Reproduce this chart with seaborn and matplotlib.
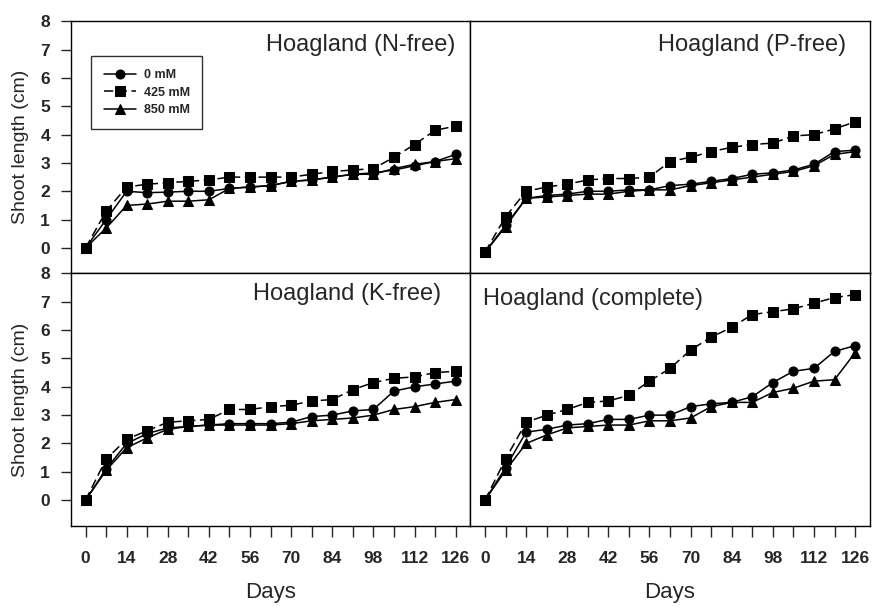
import numpy as np
import matplotlib
matplotlib.use("Agg")
import matplotlib.pyplot as plt
import seaborn as sns

days = [0, 7, 14, 21, 28, 35, 42, 49, 56, 63, 70, 77, 84, 91, 98, 105, 112, 119, 126]
labels = ["0 mM", "425 mM", "850 mM"]

# N-free
n_0 = [0, 1.0, 2.0, 1.95, 1.97, 2.0, 2.0, 2.1, 2.15, 2.2, 2.35, 2.4, 2.5, 2.6, 2.65, 2.75, 2.9, 3.05, 3.3]
n_425 = [0, 1.3, 2.15, 2.25, 2.3, 2.35, 2.4, 2.5, 2.5, 2.5, 2.5, 2.6, 2.7, 2.75, 2.8, 3.2, 3.65, 4.15, 4.3]
n_850 = [0, 0.7, 1.5, 1.55, 1.65, 1.65, 1.7, 2.1, 2.15, 2.2, 2.35, 2.4, 2.5, 2.6, 2.6, 2.8, 2.95, 3.05, 3.15]

# P-free
p_0 = [-0.15, 0.8, 1.75, 1.85, 1.9, 2.0, 2.0, 2.05, 2.05, 2.2, 2.25, 2.35, 2.45, 2.6, 2.65, 2.75, 2.95, 3.4, 3.45]
p_425 = [-0.15, 1.1, 2.0, 2.15, 2.25, 2.4, 2.45, 2.45, 2.5, 3.05, 3.2, 3.4, 3.55, 3.65, 3.7, 3.95, 4.0, 4.2, 4.45]
p_850 = [-0.15, 0.75, 1.75, 1.8, 1.85, 1.9, 1.9, 2.0, 2.05, 2.05, 2.2, 2.3, 2.4, 2.5, 2.6, 2.7, 2.9, 3.3, 3.4]

# K-free
k_0 = [0, 1.1, 2.0, 2.35, 2.55, 2.6, 2.65, 2.7, 2.7, 2.7, 2.75, 2.95, 3.0, 3.15, 3.2, 3.85, 4.0, 4.1, 4.2]
k_425 = [0, 1.45, 2.15, 2.45, 2.75, 2.8, 2.85, 3.2, 3.2, 3.3, 3.35, 3.5, 3.55, 3.9, 4.15, 4.3, 4.35, 4.5, 4.55]
k_850 = [0, 1.05, 1.85, 2.2, 2.5, 2.6, 2.65, 2.65, 2.65, 2.65, 2.7, 2.8, 2.85, 2.9, 3.0, 3.2, 3.3, 3.45, 3.55]

# complete
c_0 = [0, 1.15, 2.4, 2.5, 2.65, 2.7, 2.85, 2.85, 3.0, 3.0, 3.3, 3.4, 3.45, 3.65, 4.15, 4.55, 4.65, 5.25, 5.45]
c_425 = [0, 1.45, 2.75, 3.0, 3.2, 3.45, 3.5, 3.7, 4.2, 4.65, 5.3, 5.75, 6.1, 6.55, 6.65, 6.75, 6.95, 7.15, 7.25]
c_850 = [0, 1.05, 2.0, 2.3, 2.55, 2.6, 2.65, 2.65, 2.8, 2.8, 2.9, 3.3, 3.45, 3.45, 3.8, 3.95, 4.2, 4.25, 5.2]

panels = [
    ("Hoagland (N-free)", [n_0, n_425, n_850]),
    ("Hoagland (P-free)", [p_0, p_425, p_850]),
    ("Hoagland (K-free)", [k_0, k_425, k_850]),
    ("Hoagland (complete)", [c_0, c_425, c_850]),
]
title_pos = [(0.963, 0.905, "right"), (0.942, 0.905, "right"), (0.928, 0.92, "right"), (0.033, 0.90, "left")]

markers = ["o", "s", "^"]
styles = ["-", (0, (6, 3)), "-"]

sns.set_style("white")
plt.rcParams["font.family"] = ["Liberation Sans", "DejaVu Sans"]

fig, axes = plt.subplots(2, 2, figsize=(8.75, 6.07), dpi=100, sharex=True, sharey=True)
fig.subplots_adjust(left=0.081, right=0.994, top=0.965, bottom=0.134, hspace=0, wspace=0)

for i, (ax, (title, series)) in enumerate(zip(axes.flat, panels)):
    for vals, lab, m, ls in zip(series, labels, markers, styles):
        sns.lineplot(x=days, y=vals, ax=ax, color="black", marker=m, markersize=6.5,
                     markeredgecolor="black", linestyle=ls, linewidth=1.1, label=lab,
                     errorbar=None)
    tx, ty, ha = title_pos[i]
    ax.text(tx, ty, title, transform=ax.transAxes, ha=ha, va="center", fontsize=17)
    ax.set_xlim(-5, 131)
    ax.set_ylim(-0.9, 8)
    for s in ax.spines.values():
        s.set_color("black")
        s.set_linewidth(1.0)
    if i == 0:
        leg = ax.legend(loc="upper left", bbox_to_anchor=(0.035, 0.885), frameon=True,
                        fancybox=False, edgecolor="black",
                        handlelength=2.6, borderpad=1.0, labelspacing=0.45,
                        handletextpad=0.6, prop={"weight": "bold", "size": 9})
        leg.get_frame().set_linewidth(1.0)
    else:
        ax.get_legend().remove()

xt = days
xl = [str(d) if d % 14 == 0 else "" for d in days]
for ax in axes[1]:
    ax.set_xticks(xt)
    ax.set_xticklabels(xl)
    ax.tick_params(axis="x", direction="out", length=8, width=1, bottom=True,
                   labelsize=12.5, pad=10)
    for t in ax.get_xticklabels():
        t.set_fontweight("bold")
    ax.set_xlabel("Days", fontsize=16, labelpad=12)
for ax in axes[0]:
    ax.tick_params(axis="x", bottom=False)
for ax in axes[:, 0]:
    ax.set_yticks(range(0, 9))
    ax.tick_params(axis="y", direction="out", length=7, width=1, left=True,
                   labelsize=12.5, pad=8)
    for t in ax.get_yticklabels():
        t.set_fontweight("bold")
    ax.set_ylabel("Shoot length (cm)", fontsize=14, labelpad=8)
for ax in axes[:, 1]:
    ax.tick_params(axis="y", left=False)

fig.savefig("out.png", dpi=100)
